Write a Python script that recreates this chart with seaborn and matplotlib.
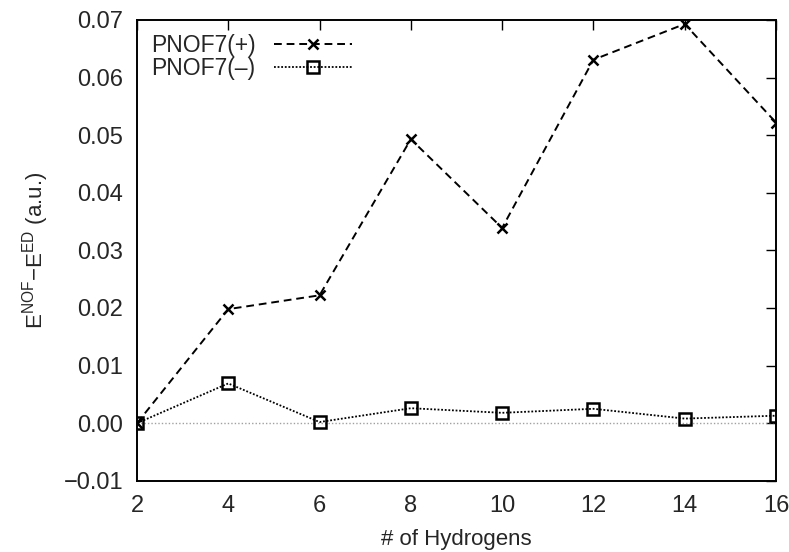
import matplotlib
matplotlib.use("Agg")
import matplotlib.pyplot as plt
import seaborn as sns
import pandas as pd

hydrogens = [2, 4, 6, 8, 10, 12, 14, 16]
pnof7_plus = [0.0000, 0.0198, 0.0222, 0.0493, 0.0339, 0.0631, 0.0693, 0.0522]
pnof7_minus = [0.0000, 0.0069, 0.0002, 0.0026, 0.0018, 0.0025, 0.0008, 0.0013]
x_ticks = [2, 4, 6, 8, 10, 12, 14, 16]
y_ticks = [-0.01, 0.00, 0.01, 0.02, 0.03, 0.04, 0.05, 0.06, 0.07]

sns.set_style("white")
plt.rcParams['font.family'] = ['Liberation Sans', 'DejaVu Sans']
plt.rcParams['mathtext.fontset'] = 'custom'
plt.rcParams['mathtext.rm'] = 'Liberation Sans'

fig = plt.figure(figsize=(7.89, 5.52), dpi=100)
ax = fig.add_axes([0.1736, 0.1290, 0.8099, 0.8348])

df_p = pd.DataFrame({"x": hydrogens, "y": pnof7_plus})
df_m = pd.DataFrame({"x": hydrogens, "y": pnof7_minus})

ax.axhline(0, color="#a0a0a0", lw=1.0, ls=(0, (1, 1.5)), zorder=1)
sns.lineplot(data=df_p, x="x", y="y", ax=ax, color="black", lw=1.4,
             linestyle=(0, (4, 2.5)), marker="x", markersize=7, markeredgewidth=1.8,
             markeredgecolor="black", label="PNOF7(+)", zorder=3)
sns.lineplot(data=df_m, x="x", y="y", ax=ax, color="black", lw=1.3,
             linestyle=(0, (1, 1)), marker="s", markersize=8, markeredgewidth=1.8,
             markerfacecolor="none", markeredgecolor="black", label="PNOF7(\u2013)", zorder=3)

ax.set_xlim(2, 16)
ax.set_ylim(-0.01, 0.07)
ax.set_xticks(x_ticks)
ax.set_yticks(y_ticks)
ax.set_yticklabels([f"{v:.2f}".replace("-", "\u2212") for v in y_ticks])
ax.tick_params(direction="in", length=7, width=1.0, top=True, right=True,
               labelsize=17, color="black")
ax.tick_params(axis="y", pad=10)
ax.tick_params(axis="x", pad=10)
for s in ax.spines.values():
    s.set_color("black")
    s.set_linewidth(1.4)

ax.set_xlabel("# of Hydrogens", fontsize=16, labelpad=9)
ax.set_ylabel("E$^{\\mathrm{NOF}}$\u2212E$^{\\mathrm{ED}}$ (a.u.)", fontsize=16, labelpad=9)

leg = ax.legend(loc="upper left", frameon=False, markerfirst=False, fontsize=16.5,
                handlelength=3.4, handletextpad=0.8, borderaxespad=0.2,
                borderpad=0.4, labelspacing=0.0)

fig.savefig("out.png", dpi=100)
